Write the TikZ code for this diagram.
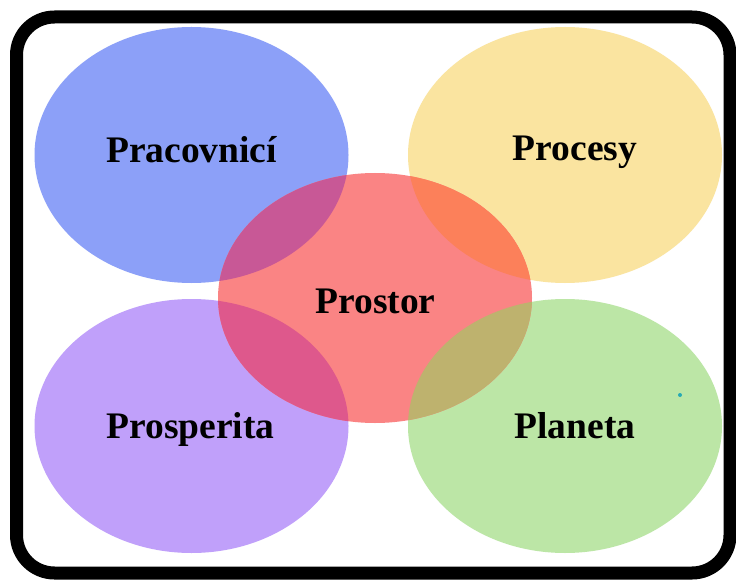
\documentclass[tikz,border=0pt]{standalone}
\usepackage{fontspec}
\setmainfont{Liberation Serif}
\definecolor{cblue}{RGB}{140,160,248}
\definecolor{cyellow}{RGB}{250,228,160}
\definecolor{cred}{RGB}{250,132,132}
\definecolor{cpurple}{RGB}{192,160,250}
\definecolor{cgreen}{RGB}{188,230,166}
\definecolor{ovblue}{RGB}{200,88,150}
\definecolor{ovyellow}{RGB}{252,128,90}
\definecolor{ovpurple}{RGB}{222,88,140}
\definecolor{ovgreen}{RGB}{190,178,110}
\definecolor{cdot}{RGB}{40,170,180}
\begin{document}
\begin{tikzpicture}[x=1pt,y=-1pt,
  lab/.style={font=\bfseries\fontsize{37.5}{40}\selectfont, text=black, inner sep=0pt, anchor=base}]
\useasboundingbox (0,0) rectangle (736,580);
\fill[white] (0,0) rectangle (736,580);
% ellipses
\fill[cblue]   (191.5,155) ellipse [x radius=157, y radius=128];
\fill[cyellow] (565,155)   ellipse [x radius=157, y radius=128];
\fill[cpurple] (191.5,426) ellipse [x radius=157, y radius=127];
\fill[cgreen]  (565,426)   ellipse [x radius=157, y radius=127];
\fill[cred]    (375,298)   ellipse [x radius=157, y radius=125];
% overlaps
\begin{scope}
  \clip (191.5,155) ellipse [x radius=157, y radius=128];
  \fill[ovblue] (375,298) ellipse [x radius=157, y radius=125];
\end{scope}
\begin{scope}
  \clip (565,155) ellipse [x radius=157, y radius=128];
  \fill[ovyellow] (375,298) ellipse [x radius=157, y radius=125];
\end{scope}
\begin{scope}
  \clip (191.5,426) ellipse [x radius=157, y radius=127];
  \fill[ovpurple] (375,298) ellipse [x radius=157, y radius=125];
\end{scope}
\begin{scope}
  \clip (565,426) ellipse [x radius=157, y radius=127];
  \fill[ovgreen] (375,298) ellipse [x radius=157, y radius=125];
\end{scope}
% labels
\node[lab] (prac) at (191.5,163) {Pracovnicí};
\node[lab] (proc) at (575,161) {Procesy};
\node[lab] (pros) at (375.5,313) {Prostor};
\node[lab] (prsp) at (190.5,438) {Prosperita};
\node[lab] (plan) at (575,438) {Planeta};
% dot
\fill[cdot] (680,395) circle [radius=2];
% border
\draw[line width=13pt, rounded corners=38pt] (16.5,17) rectangle (730,573);
\end{tikzpicture}
\end{document}
